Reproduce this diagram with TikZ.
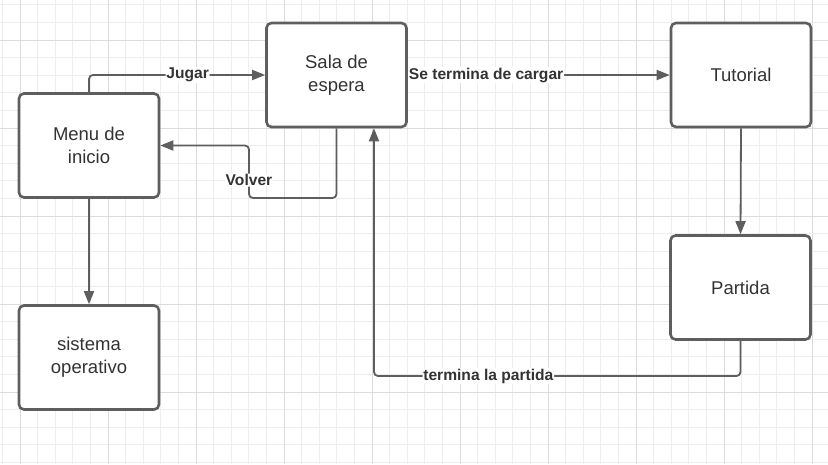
\documentclass[tikz,border=0pt]{standalone}
\usepackage{fontspec}
\setmainfont{Liberation Sans}
\usetikzlibrary{arrows.meta}

\definecolor{gridminor}{HTML}{EDEDED}
\definecolor{gridmajor}{HTML}{DCDCDC}
\definecolor{boxline}{HTML}{5E5E5E}
\definecolor{textgray}{HTML}{333333}

\begin{document}
\begin{tikzpicture}[x=1pt, y=-1pt,
  estado/.style={draw=boxline, line width=2.6pt, fill=white, rounded corners=5pt,
    minimum width=140pt, minimum height=104pt, align=center, text=textgray,
    font=\fontsize{18.5}{23}\selectfont},
  flecha/.style={draw=boxline, line width=1.8pt, rounded corners=4pt,
    -{Triangle[length=13pt, width=10pt]}},
  etiqueta/.style={fill=white, inner sep=0.8pt, text=textgray,
    font=\fontsize{15.6}{18}\selectfont\bfseries}]

\useasboundingbox (0,0) rectangle (828,464);

% cuadricula
\foreach \i in {0,...,47} {
  \draw[gridminor, line width=1pt] (2.4+17.6*\i, 0) -- (2.4+17.6*\i, 464);
}
\foreach \j in {0,...,26} {
  \draw[gridminor, line width=1pt] (0, 4.8+17.6*\j) -- (828, 4.8+17.6*\j);
}
\foreach \i in {0,...,9} {
  \draw[gridmajor, line width=1pt] (20+88*\i, 0) -- (20+88*\i, 464);
}
\foreach \j in {0,...,4} {
  \draw[gridmajor, line width=1pt] (0, 40+88*\j) -- (828, 40+88*\j);
}

\node[estado] (menu) at (89, 145.5) {Menu de\\inicio};
\node[estado] (sala) at (336.5, 75) {Sala de\\espera};
\node[estado] (tuto) at (741, 75) {Tutorial};
\node[estado] (partida) at (740.5, 287.5) {Partida};
\node[estado] (sistema) at (89, 357.5) {sistema\\operativo};

\coordinate (v1) at (249, 198);
\coordinate (t1) at (374, 376);

\draw[flecha] (menu.north) |- node[etiqueta, pos=0.78] {Jugar} (sala.west);
\draw[flecha] (sala.south) |- (v1) |- node[etiqueta, pos=0.17] {Volver} (menu.east);
\draw[flecha] (sala.east) -- node[etiqueta, pos=0.299] {Se termina de cargar} (tuto.west);
\draw[flecha] (tuto.south) -- (partida.north);
\draw[flecha] (partida.south) |- node[etiqueta, pos=0.844] {termina la partida} (t1) -- (t1 |- sala.south);
\draw[flecha] (menu.south) -- (sistema.north);

\end{tikzpicture}
\end{document}
